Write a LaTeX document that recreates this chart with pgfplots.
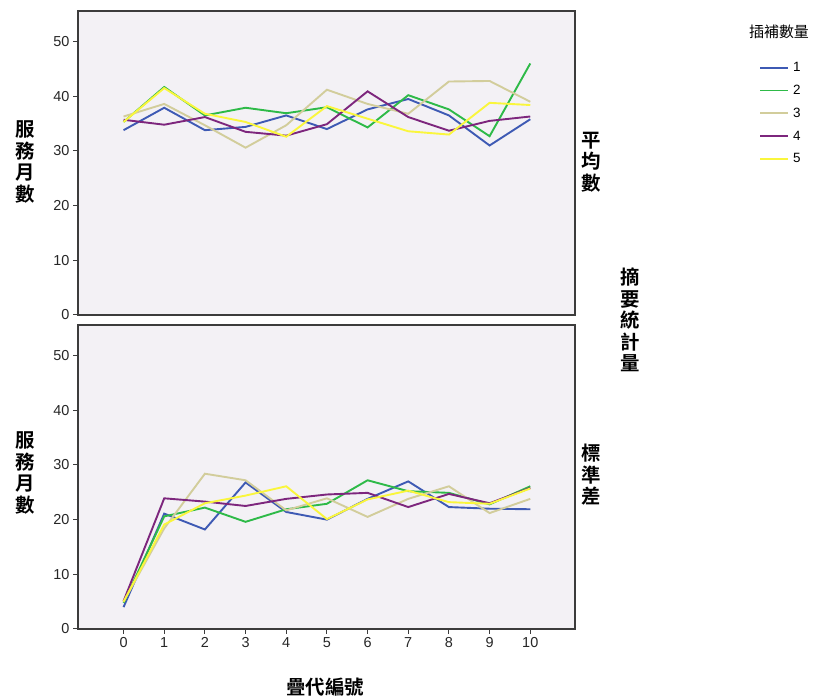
\documentclass[border=0pt]{standalone}
\usepackage{fontspec}
\setmainfont{Liberation Sans}
\newfontfamily\cjk{Noto Sans CJK TC}
\newfontfamily\cjkb{Noto Sans CJK TC Bold}
\usepackage{pgfplots}
\pgfplotsset{compat=1.18}
\definecolor{c1}{RGB}{62,90,180}
\definecolor{c2}{RGB}{46,186,72}
\definecolor{c3}{RGB}{210,205,155}
\definecolor{c4}{RGB}{125,38,125}
\definecolor{c5}{RGB}{250,246,60}
\definecolor{bgc}{RGB}{243,241,245}
\definecolor{frm}{RGB}{60,60,60}
\pgfplotsset{
  panel/.style={
    scale only axis, width=497bp, height=304bp, anchor=south west,
    xmin=-1.12, xmax=11.1, ymin=0, ymax=55.6,
    axis background/.style={fill=bgc},
    axis line style={frm, line width=1.2bp},
    ytick={0,10,20,30,40,50},
    tick style={frm, line width=1bp},
    tick align=outside, major tick length=5bp,
    ytick pos=left,
    /pgf/number format/assume math mode=true,
    tick label style={font=\fontsize{14.5}{14.5}\selectfont, text=black!85},
    every axis plot/.append style={line width=1.9bp, mark=none},
  },
}
\begin{document}
\begin{tikzpicture}[x=1bp,y=1bp]
\useasboundingbox (0,0) rectangle (822,700);
% top panel: mean
\begin{axis}[panel, at={(78bp,385bp)}, xtick=\empty,
  legend style={at={(1.364,0.845)}, anchor=north west, draw=none, fill=none,
    font=\fontsize{13.5}{13.5}\selectfont, row sep=8bp, legend cell align=left,
    nodes={inner xsep=4bp}},
  legend image code/.code={\draw[#1, line width=1.9bp] (0bp,0bp) -- (28bp,0bp);}]
\addplot[color=c1] coordinates {(0,33.8)(1,37.9)(2,33.8)(3,34.4)(4,36.5)(5,34.0)(6,37.6)(7,39.5)(8,36.5)(9,31.0)(10,35.8)};
\addplot[color=c2] coordinates {(0,35.3)(1,41.7)(2,36.5)(3,37.9)(4,36.9)(5,38.0)(6,34.3)(7,40.2)(8,37.6)(9,32.7)(10,46.0)};
\addplot[color=c3] coordinates {(0,36.3)(1,38.6)(2,34.7)(3,30.6)(4,34.7)(5,41.2)(6,38.6)(7,36.8)(8,42.7)(9,42.8)(10,39.0)};
\addplot[color=c4] coordinates {(0,35.7)(1,34.8)(2,36.2)(3,33.5)(4,32.8)(5,34.9)(6,40.9)(7,36.2)(8,33.7)(9,35.5)(10,36.3)};
\addplot[color=c5] coordinates {(0,35.3)(1,41.5)(2,36.8)(3,35.3)(4,32.6)(5,38.2)(6,35.9)(7,33.6)(8,33.0)(9,38.8)(10,38.4)};
\legend{1,2,3,4,5}
\end{axis}
% bottom panel: std dev
\begin{axis}[panel, at={(78bp,71bp)}, xtick={0,...,10}, xtick pos=bottom]
\addplot[color=c1] coordinates {(0,4.0)(1,21.1)(2,18.2)(3,26.8)(4,21.4)(5,20.0)(6,23.8)(7,27.0)(8,22.3)(9,22.0)(10,21.9)};
\addplot[color=c2] coordinates {(0,4.8)(1,20.6)(2,22.2)(3,19.6)(4,21.9)(5,22.9)(6,27.2)(7,25.2)(8,24.9)(9,22.8)(10,26.1)};
\addplot[color=c3] coordinates {(0,5.0)(1,18.4)(2,28.4)(3,27.2)(4,21.7)(5,23.9)(6,20.5)(7,23.8)(8,26.1)(9,21.2)(10,23.8)};
\addplot[color=c4] coordinates {(0,5.1)(1,23.9)(2,23.3)(3,22.5)(4,23.8)(5,24.6)(6,24.9)(7,22.3)(8,24.7)(9,23.0)(10,25.8)};
\addplot[color=c5] coordinates {(0,5.0)(1,19.1)(2,23.0)(3,24.4)(4,26.1)(5,20.1)(6,23.7)(7,25.3)(8,23.2)(9,22.9)(10,25.7)};
\end{axis}
% labels
\tikzset{vlab/.style={font=\cjkb\fontsize{19.5}{21.5}\selectfont, align=center, inner sep=0pt}}
\node[vlab] at (25,538) {服\\務\\月\\數};
\node[vlab] at (25,227) {服\\務\\月\\數};
\node[vlab, anchor=north west] at (581,568) {平\\均\\數};
\node[vlab, anchor=north west] at (581,256) {標\\準\\差};
\node[vlab] at (630,380) {摘\\要\\統\\計\\量};
\node[font=\cjkb\fontsize{19.5}{21}\selectfont, inner sep=0pt] at (325,13) {疊代編號};
\node[font=\cjk\fontsize{15}{15}\selectfont, inner sep=0pt] at (779,668) {插補數量};
\end{tikzpicture}
\end{document}
